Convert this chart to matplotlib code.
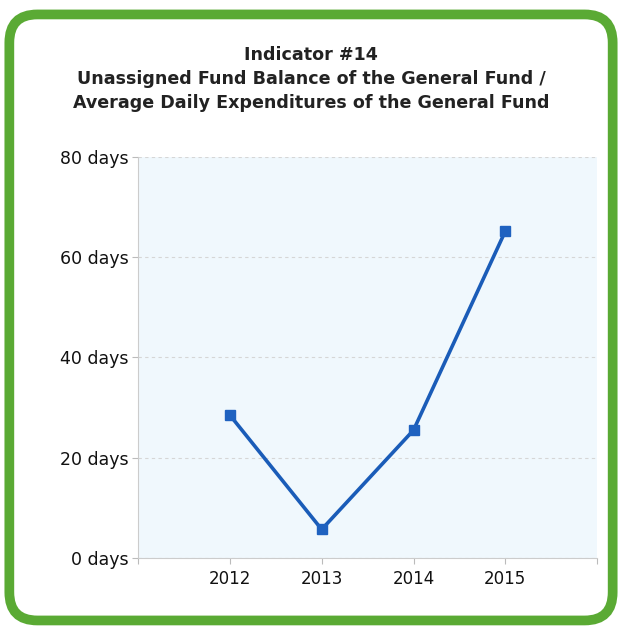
import matplotlib
matplotlib.use('Agg')
import matplotlib.pyplot as plt
from matplotlib.patches import FancyBboxPatch

# Indicator #14 data
years = [2012, 2013, 2014, 2015]
days = [28.5, 5.7, 25.5, 65.2]
y_ticks = [0, 20, 40, 60, 80]
y_labels = [f'{v} days' for v in y_ticks]

fig = plt.figure(figsize=(6.22, 6.28), dpi=100)

# green rounded frame, behind the axes
frame = FancyBboxPatch((0.015, 0.012), 0.97, 0.965,
                       boxstyle='round,pad=0,rounding_size=0.045',
                       transform=fig.transFigure, facecolor='white',
                       edgecolor='#5aaa34', linewidth=7, zorder=-1)
fig.patches.append(frame)

fig.text(0.5, 0.874, 'Indicator #14\nUnassigned Fund Balance of the General Fund /\n'
         'Average Daily Expenditures of the General Fund',
         ha='center', va='center', fontsize=12.6, fontweight='bold',
         color='#222222', linespacing=1.45)

ax = fig.add_axes([0.222, 0.1115, 0.738, 0.6385])
ax.set_facecolor('#f0f8fd')
ax.plot(years, days, color='#1a5cb8', linewidth=2.6, marker='s',
        markersize=7, markerfacecolor='#1f62c0', markeredgecolor='#1f62c0')

ax.set_xlim(2011, 2016)
ax.set_ylim(0, 80)
ax.set_xticks([2011] + years + [2016])
ax.set_xticklabels([''] + [str(y) for y in years] + [''], fontsize=12)
ax.set_yticks(y_ticks)
ax.set_yticklabels(y_labels, fontsize=12.5)
ax.tick_params(axis='both', colors='#bbbbbb', labelcolor='#111111', length=4)
ax.tick_params(axis='x', pad=5)
ax.tick_params(axis='y', pad=3)
ax.grid(axis='y', color='#d6d6d6', linestyle=(0, (3, 3)), linewidth=0.8)
ax.set_axisbelow(True)
for side in ['top', 'right']:
    ax.spines[side].set_visible(False)
for side in ['left', 'bottom']:
    ax.spines[side].set_color('#cccccc')

fig.savefig('out.png', dpi=100)
